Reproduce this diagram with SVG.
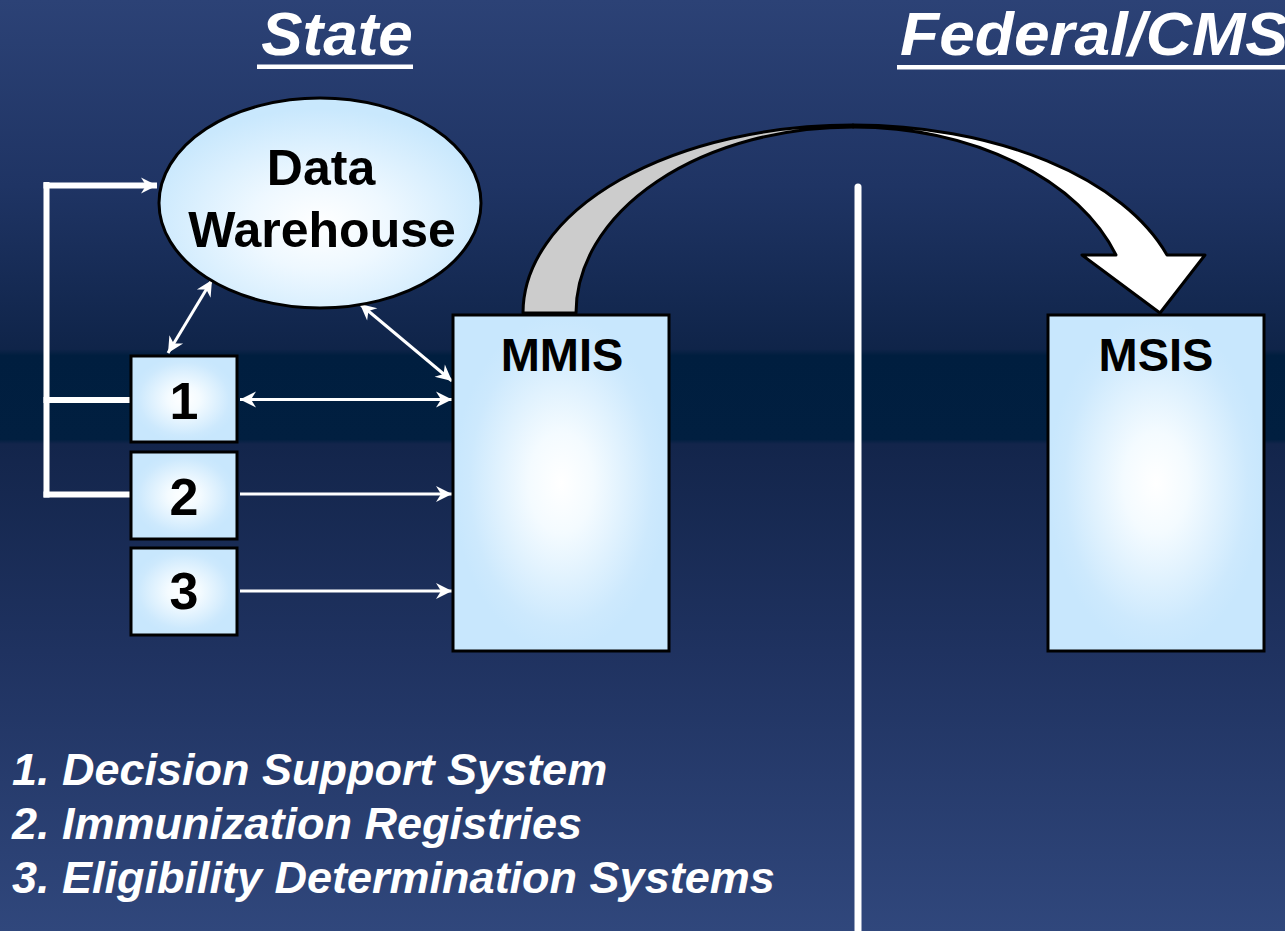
<svg xmlns="http://www.w3.org/2000/svg" width="1285" height="931" viewBox="0 0 1285 931">
  <defs>
    <linearGradient id="bg" x1="0" y1="0" x2="0" y2="1">
      <stop offset="0" stop-color="#2c4276"/>
      <stop offset="0.2" stop-color="#1f3464"/>
      <stop offset="0.375" stop-color="#0f2449"/>
      <stop offset="0.382" stop-color="#001e3f"/>
      <stop offset="0.472" stop-color="#011f40"/>
      <stop offset="0.477" stop-color="#13254b"/>
      <stop offset="0.7" stop-color="#1f3260"/>
      <stop offset="1" stop-color="#30477c"/>
    </linearGradient>
    <radialGradient id="glow" cx="0.5" cy="0.5" r="0.5">
      <stop offset="0" stop-color="#ffffff"/>
      <stop offset="0.3" stop-color="#f4fbff"/>
      <stop offset="0.85" stop-color="#cde9fd"/>
      <stop offset="1" stop-color="#c8e7fd"/>
    </radialGradient>
    <radialGradient id="glowEllipse" cx="0.5" cy="0.6" r="0.55">
      <stop offset="0" stop-color="#ffffff"/>
      <stop offset="0.4" stop-color="#eef8ff"/>
      <stop offset="1" stop-color="#c9e8fd"/>
    </radialGradient>
    <marker id="head" markerUnits="userSpaceOnUse" markerWidth="20" markerHeight="20" viewBox="-18 -10 20 20" refX="0" refY="0" orient="auto-start-reverse">
      <path d="M0,0 L-16,-8 L-11,0 L-16,8 Z" fill="#ffffff"/>
    </marker>
    <style>
      .title { font-family: "Liberation Sans", Arial, sans-serif; font-weight: bold; font-style: italic; font-size: 62px; fill: #ffffff; }
      .legend { font-family: "Liberation Sans", Arial, sans-serif; font-weight: bold; font-style: italic; font-size: 45px; fill: #ffffff; }
      .label { font-family: "Liberation Sans", Arial, sans-serif; font-weight: bold; fill: #000000; text-anchor: middle; }
      .box { fill: url(#glow); stroke: #000000; stroke-width: 3; }
      .wire { fill: none; stroke: #ffffff; stroke-width: 3; }
      .bracket { fill: none; stroke: #ffffff; stroke-width: 6; }
    </style>
  </defs>

  <!-- background -->
  <rect x="0" y="0" width="1285" height="931" fill="url(#bg)"/>

  <!-- section headings -->
  <g id="headings">
    <text class="title" x="337" y="55" text-anchor="middle">State</text>
    <rect x="257" y="64.5" width="156" height="4.5" fill="#ffffff"/>
    <text class="title" x="900" y="55" textLength="388" lengthAdjust="spacingAndGlyphs">Federal/CMS</text>
    <rect x="897" y="65" width="390" height="4.5" fill="#ffffff"/>
  </g>

  <!-- divider between state and federal side -->
  <line id="divider" x1="858" y1="187" x2="858" y2="935" stroke="#ffffff" stroke-width="7" stroke-linecap="round"/>

  <!-- connectors -->
  <g id="connectors">
    <path class="bracket" d="M46.5,182 V497.5"/>
    <path class="bracket" d="M43.5,185.5 H157" marker-end="url(#head)"/>
    <path class="bracket" d="M43.5,400 H130"/>
    <path class="bracket" d="M43.5,494.5 H130"/>
    <line class="wire" x1="212" y1="280" x2="168" y2="353" marker-start="url(#head)" marker-end="url(#head)"/>
    <line class="wire" x1="360" y1="304" x2="452" y2="381" marker-start="url(#head)" marker-end="url(#head)"/>
    <line class="wire" x1="240" y1="399.5" x2="452" y2="399.5" marker-start="url(#head)" marker-end="url(#head)"/>
    <line class="wire" x1="240" y1="494" x2="452" y2="494" marker-end="url(#head)"/>
    <line class="wire" x1="240" y1="591" x2="452" y2="591" marker-end="url(#head)"/>
  </g>

  <!-- curved transfer arrow from MMIS to MSIS -->
  <g id="transfer-arrow" stroke="#000000" stroke-width="3" stroke-linejoin="round">
    <path d="M523,313 A330,188 0 0 1 853,125 L853,127 A277,186 0 0 0 576,313 Z" fill="#cccccc"/>
    <path d="M853,125 A330,188 0 0 1 1167,255 L1205,255 L1160,313 L1082,255 L1116,255 A277,186 0 0 0 853,127 Z" fill="#ffffff"/>
  </g>

  <!-- nodes -->
  <g id="data-warehouse">
    <ellipse cx="320" cy="203" rx="161" ry="105" fill="url(#glowEllipse)" stroke="#000000" stroke-width="3"/>
    <text class="label" x="321" y="185" font-size="50">Data</text>
    <text class="label" x="322" y="247" font-size="50">Warehouse</text>
  </g>

  <g id="system-1">
    <rect class="box" x="131" y="356" width="106" height="86"/>
    <text class="label" x="184" y="419" font-size="52">1</text>
  </g>
  <g id="system-2">
    <rect class="box" x="131" y="452" width="106" height="87"/>
    <text class="label" x="184" y="515" font-size="52">2</text>
  </g>
  <g id="system-3">
    <rect class="box" x="131" y="548" width="106" height="87"/>
    <text class="label" x="184" y="609" font-size="52">3</text>
  </g>

  <g id="mmis">
    <rect class="box" x="453" y="315" width="216" height="336"/>
    <text class="label" x="562" y="371" font-size="47">MMIS</text>
  </g>

  <g id="msis">
    <rect class="box" x="1048" y="315" width="216" height="336"/>
    <text class="label" x="1156" y="371" font-size="47">MSIS</text>
  </g>

  <!-- legend -->
  <g id="legend">
    <text class="legend" x="12" y="785">1. Decision Support System</text>
    <text class="legend" x="12" y="839">2. Immunization Registries</text>
    <text class="legend" x="12" y="893">3. Eligibility Determination Systems</text>
  </g>
</svg>
